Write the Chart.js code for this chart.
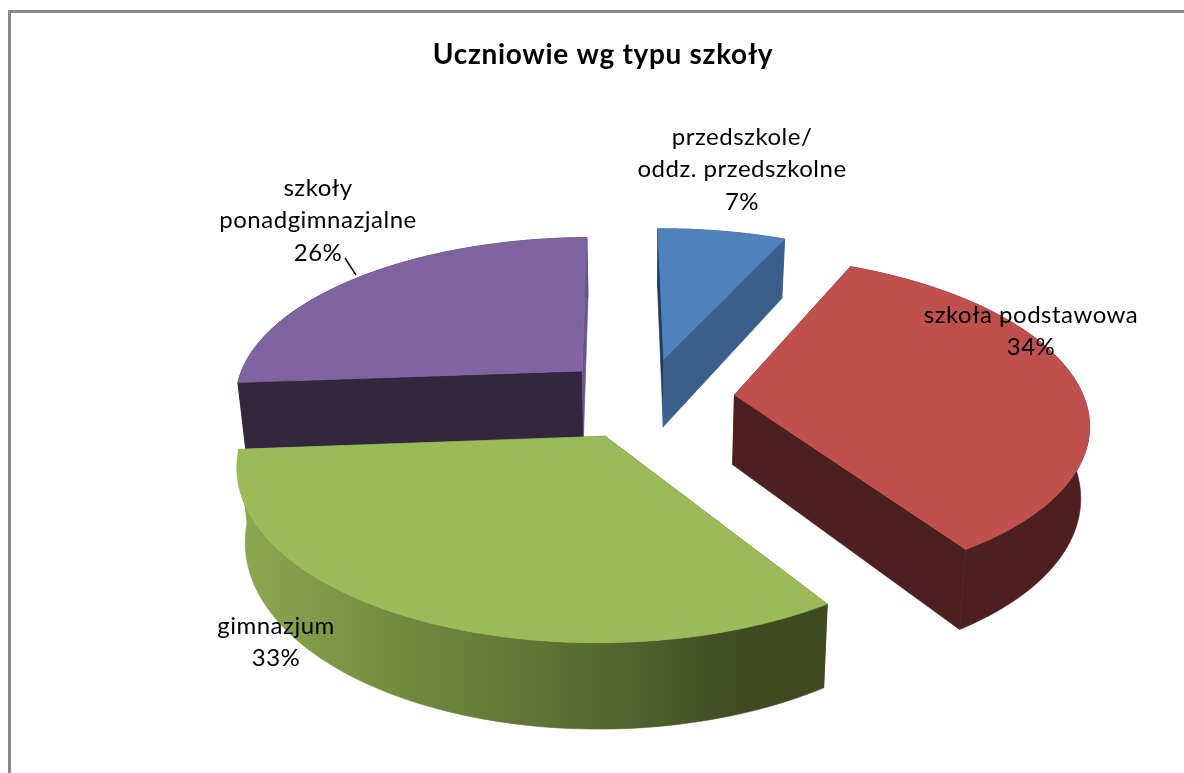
<!DOCTYPE html>
<html><head><meta charset="utf-8">
<style>html,body{margin:0;padding:0;background:#fff}canvas{display:block}</style>
<script src="https://cdn.jsdelivr.net/npm/chart.js@4"></script>
</head><body><canvas id="c" width="1184" height="773"></canvas>
<script>
const categories = ['przedszkole/ oddz. przedszkolne','szkoła podstawowa','gimnazjum','szkoły ponadgimnazjalne'];
const shares = [7,34,33,26];
const chartTitle = 'Uczniowie wg typu szkoły';
const labelLines = [['przedszkole/','oddz. przedszkolne','7%'],['szkoła podstawowa','34%'],['gimnazjum','33%'],['szkoły','ponadgimnazjalne','26%']];

// styling
const topColors = ['#4F81BD','#C0504D','#9BBB59','#8064A2'];
const wallColors = ['#3A5F8B','#4D1F1F',null,'#33273F'];
const startWallColors = ['#1F3A5C','#4D1F1F','#3F4A23','#33273F'];
const endWallColors = ['#3A5F8B','#4D1F1F',null,'#6B5488'];
const paintOrder = [3,0,1,2];
const labelAnchors = [[742,137],[1031,315],[276,626],[318,188]];
const VIEW = {cx:646, cy:398, bx:1.14, ay:0.527, p:0.154, depth:70, shrink:0.98};

function project(el,r,ang){
  const R = el.outerRadius, mid=(el.startAngle+el.endAngle)/2, o=el.options.offset/R;
  const u = r*Math.cos(ang)+o*Math.cos(mid), v = r*Math.sin(ang)+o*Math.sin(mid);
  const w = 1-VIEW.p*v;
  const x = VIEW.cx+VIEW.bx*R*u/w, y = VIEW.cy+VIEW.ay*R*v/w;
  return {x,y,bx:VIEW.cx+(x-VIEW.cx)*VIEW.shrink,by:y+VIEW.depth/w};
}
function poly(ctx,pts,fill){
  ctx.beginPath();pts.forEach((p,i)=>i?ctx.lineTo(p[0],p[1]):ctx.moveTo(p[0],p[1]));ctx.closePath();
  ctx.fillStyle=fill;ctx.strokeStyle=fill;ctx.lineWidth=0.6;ctx.fill();ctx.stroke();
}
const pie3d = {
  id:'pie3d',
  beforeDraw(chart){ chart.ctx.letterSpacing='0.7px'; },
  beforeDatasetsDraw(chart){
    const ctx=chart.ctx, arcs=chart.getDatasetMeta(0).data;
    paintOrder.forEach(i=>{
      const el=arcs[i], n=80, pts=[];
      for(let k=0;k<=n;k++) pts.push(project(el,1,el.startAngle+(el.endAngle-el.startAngle)*k/n));
      const a=project(el,0,0), s=pts[0], e=pts[n];
      let wall=wallColors[i];
      if(!wall){
        wall=ctx.createLinearGradient(240,0,830,0);
        wall.addColorStop(0,'#8DA850');wall.addColorStop(0.28,'#73893F');
        wall.addColorStop(0.6,'#566B30');wall.addColorStop(0.85,'#3F4A23');wall.addColorStop(1,'#3F4A23');
      }
      poly(ctx,pts.map(p=>[p.x,p.y]).concat(pts.slice().reverse().map(p=>[p.bx,p.by])),wall);
      poly(ctx,[[a.x,a.y],[s.x,s.y],[s.bx,s.by],[a.bx,a.by]],startWallColors[i]||wall);
      poly(ctx,[[a.x,a.y],[e.x,e.y],[e.bx,e.by],[a.bx,a.by]],endWallColors[i]||wall);
      poly(ctx,[[a.x,a.y]].concat(pts.map(p=>[p.x,p.y])),topColors[i]);
    });
    return false;
  },
  afterDraw(chart){
    const ctx=chart.ctx;
    ctx.save();
    ctx.fillStyle='#888888';ctx.fillRect(8,10,3,763);ctx.fillRect(8,10,1176,3);
    ctx.strokeStyle='#000';ctx.lineWidth=1.5;ctx.beginPath();ctx.moveTo(345,258);ctx.lineTo(356,275);ctx.stroke();
    ctx.letterSpacing='0.5px';
    ctx.fillStyle='#000';ctx.font='24px Lato';ctx.textAlign='center';ctx.textBaseline='middle';
    labelLines.forEach((lines,i)=>lines.forEach((t,j)=>ctx.fillText(t,labelAnchors[i][0],labelAnchors[i][1]+j*32.5)));
    ctx.restore();
  }
};
new Chart(document.getElementById('c'),{
  type:'pie',
  data:{labels:categories,datasets:[{data:shares,backgroundColor:topColors,borderWidth:0,offset:78}]},
  options:{
    responsive:false,animation:false,rotation:-0.7,
    layout:{padding:{left:22,top:0}},
    plugins:{
      legend:{display:false},tooltip:{enabled:false},
      title:{display:true,text:chartTitle,color:'#000',font:{family:'Lato',size:28,weight:'bold'},padding:{top:38,bottom:10}}
    }
  },
  plugins:[pie3d]
});
</script></body></html>
